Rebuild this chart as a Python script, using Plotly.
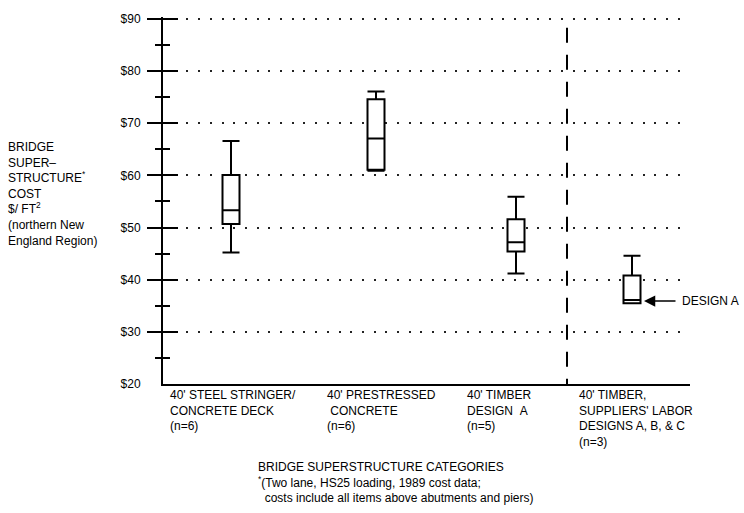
import plotly.graph_objects as go

# ---------------- data ----------------
CATEGORY_LINES = [
    ["40' STEEL STRINGER/", "CONCRETE DECK"],
    ["40' PRESTRESSED", "\u00a0CONCRETE"],
    ["40' TIMBER", "DESIGN\u00a0\u00a0A"],
    ["40' TIMBER,", "SUPPLIERS' LABOR", "DESIGNS A, B, & C"],
]
N_COUNTS = [6, 6, 5, 3]
UPPER = [66.6, 76.1, 55.9, 44.6]
Q3 = [60.1, 74.6, 51.6, 40.8]
MEDIAN = [53.3, 67.1, 47.2, 36.1]
Q1 = [50.7, 61.1, 45.4, 35.5]
LOWER = [45.2, 60.9, 41.2, 35.5]
Y_TICKS = [20, 30, 40, 50, 60, 70, 80, 90]
Y_TICK_TEXT = ["$20", "$30", "$40", "$50", "$60", "$70", "$80", "$90"]
MINOR_TICKS = [25, 35, 45, 55, 65, 75, 85]
DESIGN_A_VALUE = 35.9

# ---------------- layout constants ----------------
W, H = 744, 513
L, R, T, B = 163, 54, 12, 129
PW = W - L - R          # 527 -> x units are pixels across the plot
PH = H - T - B          # 372
Y_RANGE = [20, 90.38]
BOX_X = [68, 213, 353, 469]        # box centres (x units)
LABEL_X = [5, 162, 302, 414]       # left edges of category labels
DIVIDER_X = 404
FONT = "Liberation Sans, Arial, sans-serif"

def px_to_paper_x(px):
    return (px - L) / PW

def px_to_paper_y(py):
    return (H - B - py) / PH

fig = go.Figure()

for i in range(len(BOX_X)):
    fig.add_trace(go.Box(
        x=[BOX_X[i]], q1=[Q1[i]], median=[MEDIAN[i]], q3=[Q3[i]],
        lowerfence=[LOWER[i]], upperfence=[UPPER[i]],
        width=17, whiskerwidth=1, boxpoints=False,
        line=dict(color="black", width=2), fillcolor="white",
        showlegend=False, hoverinfo="skip",
    ))

# invisible traces so overlay tick axes are drawn
fig.add_trace(go.Scatter(x=[0], y=[20], yaxis="y2", mode="markers",
                         marker=dict(opacity=0), showlegend=False, hoverinfo="skip"))
fig.add_trace(go.Scatter(x=[0], y=[20], yaxis="y3", mode="markers",
                         marker=dict(opacity=0), showlegend=False, hoverinfo="skip"))

tick_common = dict(range=Y_RANGE, showgrid=False, zeroline=False,
                   showticklabels=False, showline=False, fixedrange=True)

fig.update_layout(
    width=W, height=H,
    margin=dict(l=L, r=R, t=T, b=B, pad=0),
    paper_bgcolor="white", plot_bgcolor="white",
    font=dict(family=FONT, size=12, color="black"),
    xaxis=dict(range=[0, PW], showgrid=False, zeroline=False, showticklabels=False,
               ticks="", showline=True, linewidth=2, linecolor="black"),
    yaxis=dict(range=Y_RANGE, tickvals=Y_TICKS, ticktext=Y_TICK_TEXT, ticks="",
               ticklabelstandoff=18, showline=True, linewidth=2, linecolor="black",
               showgrid=True, gridcolor="#222", gridwidth=1.5, griddash="2px,9.7px",
               zeroline=False, tickfont=dict(family=FONT, size=12, color="black")),
    yaxis2=dict(overlaying="y", side="left", tickvals=Y_TICKS[1:], ticks="outside",
                ticklen=15, tickwidth=2, tickcolor="black",
                minor=dict(tickvals=MINOR_TICKS, ticks="outside", ticklen=7,
                           tickwidth=2, tickcolor="black"),
                **tick_common),
    yaxis3=dict(overlaying="y", side="left", tickvals=Y_TICKS[1:], ticks="inside",
                ticklen=15, tickwidth=2, tickcolor="black",
                minor=dict(tickvals=MINOR_TICKS, ticks="inside", ticklen=7,
                           tickwidth=2, tickcolor="black"),
                **tick_common),
)

# dashed divider between groups
fig.add_shape(type="line", xref="x", yref="y", x0=DIVIDER_X, x1=DIVIDER_X,
              y0=88.3, y1=20, line=dict(color="black", width=2, dash="15px,12px"))

# category labels
for i, lines in enumerate(CATEGORY_LINES):
    text = "<br>".join(lines + [f"(n={N_COUNTS[i]})"])
    fig.add_annotation(x=LABEL_X[i], xref="x", y=px_to_paper_y(386), yref="paper",
                       text=text, showarrow=False, xanchor="left", yanchor="top",
                       align="left", font=dict(size=12))

# y-axis title block
fig.add_annotation(
    x=px_to_paper_x(6), xref="paper", y=px_to_paper_y(135), yref="paper",
    text="BRIDGE<br>SUPER\u2013<br>STRUCTURE<sup>*</sup><br>COST<br>"
         "$/ FT<sup>2</sup>"
         "<br>(northern New<br>England Region)",
    showarrow=False, xanchor="left", yanchor="top", align="left", font=dict(size=12))

# x-axis title and footnote
fig.add_annotation(
    x=px_to_paper_x(256), xref="paper", y=px_to_paper_y(459), yref="paper",
    text="BRIDGE SUPERSTRUCTURE CATEGORIES<br><sup>*</sup>(Two lane, HS25 loading, 1989 cost data;"
         "<br>\u00a0\u00a0costs include all items above abutments and piers)",
    showarrow=False, xanchor="left", yanchor="top", align="left", font=dict(size=12))

# DESIGN A arrow + label
fig.add_annotation(x=BOX_X[3] + 12, xref="x", y=DESIGN_A_VALUE, yref="y",
                   ax=33, ay=0, text="", showarrow=True, arrowhead=2,
                   arrowsize=1.5, arrowwidth=1.5, arrowcolor="black", standoff=0)
fig.add_annotation(x=BOX_X[3] + 48, xref="x", y=DESIGN_A_VALUE, yref="y",
                   text="DESIGN A", showarrow=False, xanchor="left", yanchor="middle",
                   font=dict(size=12))

fig.write_html("out.html",
               config={"displayModeBar": False},
               post_script="document.body.style.margin='0px';")
